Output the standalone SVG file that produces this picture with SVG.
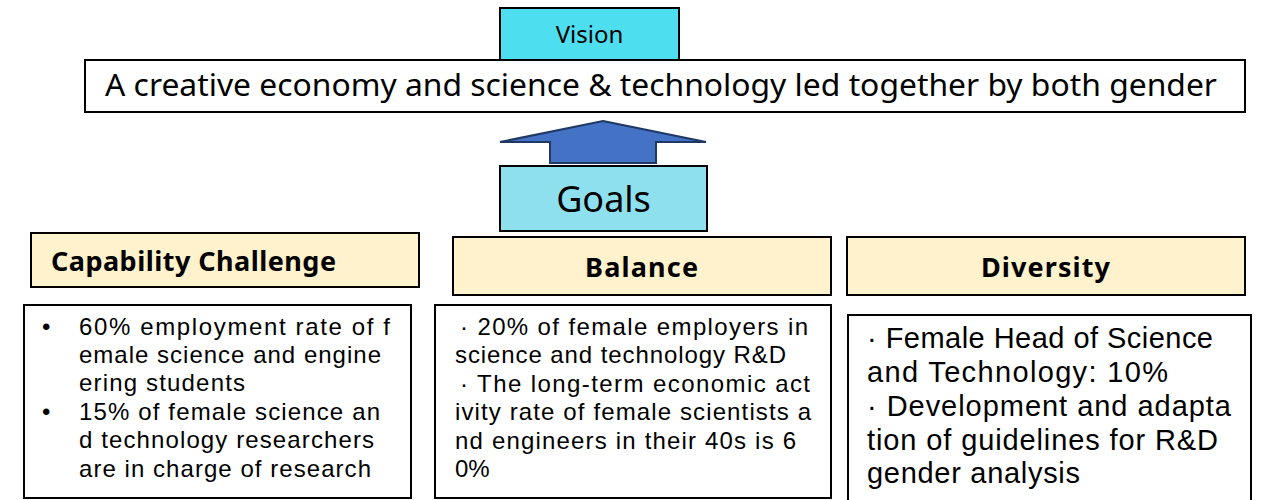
<svg xmlns="http://www.w3.org/2000/svg" width="1261" height="500" viewBox="0 0 1261 500">
  <style>
    text { font-family: "Noto Sans", "Open Sans", "Noto Sans CJK KR", sans-serif; fill: #000; }
    .box { stroke: #000; stroke-width: 2; }
    .white { fill: #fff; }
    .cream { fill: #FFF2CC; }
    .head { font-weight: bold; font-size: 27px; }
    .body1, .body3 { font-family: "Liberation Sans", "Noto Sans CJK KR", sans-serif; }
    .body1 { font-size: 24px; }
    .body3 { font-size: 29px; }
  </style>
  <rect width="1261" height="500" fill="#fff"/>

  <g id="vision-statement">
    <rect class="box white" x="85" y="60" width="1160" height="52"/>
    <text x="105" y="96" font-size="31" textLength="1112" lengthAdjust="spacingAndGlyphs">A creative economy and science &amp; technology led together by both gender</text>
  </g>

  <g id="vision">
    <rect class="box" x="500" y="8" width="179" height="52" fill="#4DDFEF"/>
    <text x="589.5" y="43" font-size="24" text-anchor="middle">Vision</text>
  </g>

  <g id="connectors">
    <polygon points="603,121 706,142 656,142 656,163 550,163 550,142 500,142" fill="#4472C4" stroke="#1F3864" stroke-width="2"/>
  </g>

  <g id="goals">
    <rect class="box" x="500" y="166" width="207" height="65" fill="#8EE0EE"/>
    <text x="603.5" y="212" font-size="36" text-anchor="middle">Goals</text>
  </g>

  <g id="capability-challenge">
    <rect class="box cream" x="31" y="233" width="388" height="54"/>
    <text class="head" x="51" y="271" textLength="285">Capability Challenge</text>
  </g>

  <g id="balance">
    <rect class="box cream" x="453" y="237" width="378" height="58"/>
    <text class="head" x="585" y="277" textLength="113">Balance</text>
  </g>

  <g id="diversity">
    <rect class="box cream" x="847" y="237" width="398" height="58"/>
    <text class="head" x="981" y="277" textLength="129">Diversity</text>
  </g>

  <g id="capability-targets">
    <rect class="box white" x="24" y="305" width="387" height="193"/>
    <text class="body1">
      <tspan x="42" y="335">•</tspan>
      <tspan x="79" y="335" textLength="311">60% employment rate of f</tspan>
      <tspan x="79" y="363" textLength="302">emale science and engine</tspan>
      <tspan x="79" y="391" textLength="166">ering students</tspan>
      <tspan x="42" y="420">•</tspan>
      <tspan x="79" y="420" textLength="301">15% of female science an</tspan>
      <tspan x="79" y="448" textLength="295">d technology researchers</tspan>
      <tspan x="79" y="477" textLength="292">are in charge of research</tspan>
    </text>
  </g>

  <g id="balance-targets">
    <rect class="box white" x="435" y="305" width="396" height="193"/>
    <text class="body1">
      <tspan x="460" y="335" textLength="348">· 20% of female employers in</tspan>
      <tspan x="455" y="363" textLength="331">science and technology R&amp;D</tspan>
      <tspan x="460" y="392" textLength="350">· The long-term economic act</tspan>
      <tspan x="455" y="420" textLength="356">ivity rate of female scientists a</tspan>
      <tspan x="455" y="449" textLength="341">nd engineers in their 40s is 6</tspan>
      <tspan x="455" y="477">0%</tspan>
    </text>
  </g>

  <g id="diversity-targets">
    <rect class="box white" x="848" y="315" width="403" height="195"/>
    <text class="body3">
      <tspan x="867" y="348" textLength="346">· Female Head of Science</tspan>
      <tspan x="867" y="382" textLength="301">and Technology: 10%</tspan>
      <tspan x="867" y="416" textLength="364">· Development and adapta</tspan>
      <tspan x="867" y="450" textLength="351">tion of guidelines for R&amp;D</tspan>
      <tspan x="867" y="483" textLength="213">gender analysis</tspan>
    </text>
  </g>
</svg>
